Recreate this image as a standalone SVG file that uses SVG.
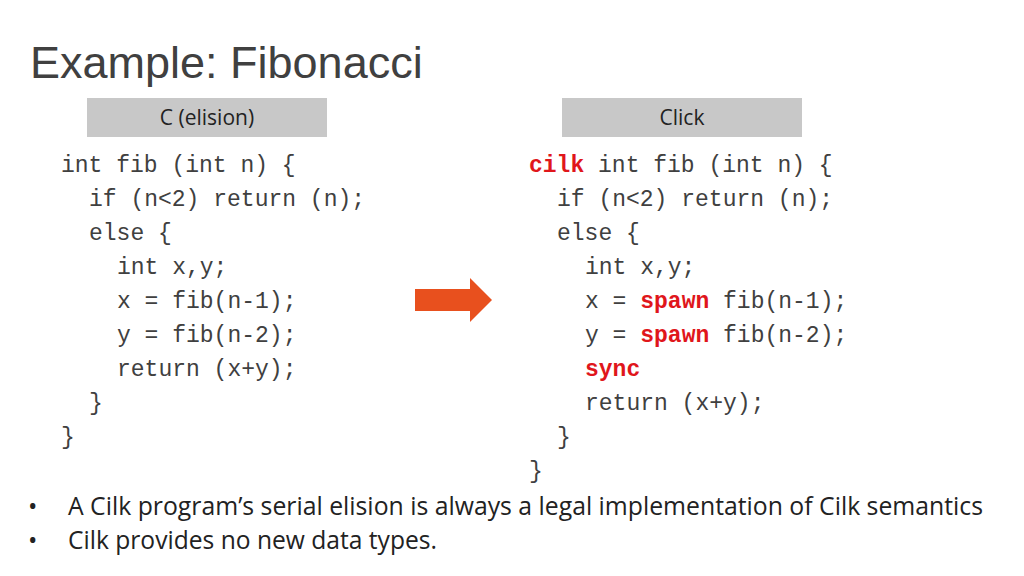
<svg xmlns="http://www.w3.org/2000/svg" width="1024" height="576" viewBox="0 0 1024 576">
<style>
.code{font-family:"Liberation Mono","DejaVu Sans Mono",monospace;font-size:23px;fill:#404040}
.kw{fill:#e0161b;font-weight:bold}
.lbl{font-family:"Open Sans","Noto Sans",sans-serif;font-size:21px;fill:#222;text-anchor:middle}
.box{fill:#c8c8c8}
.bul{font-family:"Open Sans","Noto Sans",sans-serif;font-size:25px;fill:#222}
</style>
<rect width="1024" height="576" fill="#fff"/>
<text x="30" y="78" font-family="Liberation Sans,Arial,sans-serif" font-size="45" fill="#404040">Example: Fibonacci</text>
<g id="box-c"><rect class="box" x="87" y="98" width="240" height="39"/><text class="lbl" x="207" y="125">C (elision)</text></g>
<g id="box-click"><rect class="box" x="562" y="98" width="240" height="39"/><text class="lbl" x="682" y="125">Click</text></g>
<g id="code-left" class="code">
<text x="61" y="172">int fib (int n) {</text>
<text x="89" y="206">if (n&lt;2) return (n);</text>
<text x="89" y="240">else {</text>
<text x="117" y="274">int x,y;</text>
<text x="117" y="308">x = fib(n-1);</text>
<text x="117" y="342">y = fib(n-2);</text>
<text x="117" y="376">return (x+y);</text>
<text x="89" y="410">}</text>
<text x="61" y="444">}</text>
</g>
<g id="code-right" class="code">
<text x="529" y="172"><tspan class="kw">cilk</tspan> int fib (int n) {</text>
<text x="557" y="206">if (n&lt;2) return (n);</text>
<text x="557" y="240">else {</text>
<text x="585" y="274">int x,y;</text>
<text x="585" y="308">x = <tspan class="kw">spawn</tspan> fib(n-1);</text>
<text x="585" y="342">y = <tspan class="kw">spawn</tspan> fib(n-2);</text>
<text x="585" y="376" class="kw">sync</text>
<text x="585" y="410">return (x+y);</text>
<text x="557" y="444">}</text>
<text x="529" y="478">}</text>
</g>
<g id="connectors"><polygon points="415,289 470,289 470,278 492,300 470,322 470,311 415,311" fill="#e8501e"/></g>
<g id="bullets">
<text class="bul" x="28" y="515">•</text><text class="bul" x="68" y="515" textLength="915" lengthAdjust="spacingAndGlyphs">A Cilk program’s serial elision is always a legal implementation of Cilk semantics</text>
<text class="bul" x="28" y="549">•</text><text class="bul" x="68" y="549" textLength="369" lengthAdjust="spacingAndGlyphs">Cilk provides no new data types.</text>
</g>
</svg>
